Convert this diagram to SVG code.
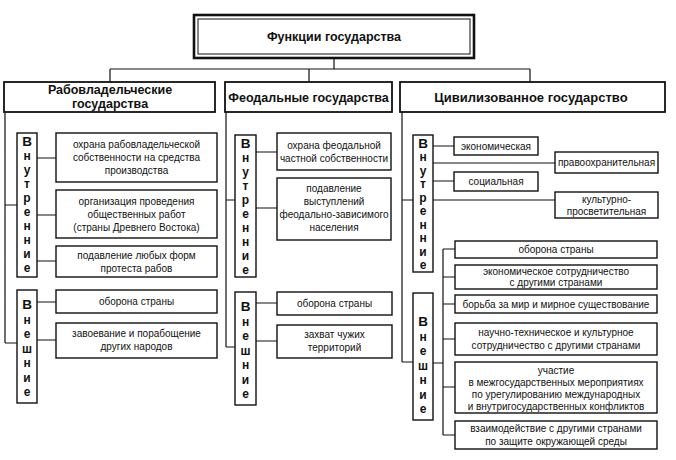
<svg xmlns="http://www.w3.org/2000/svg" width="676" height="460" viewBox="0 0 676 460">
<style>
.bx{fill:#fff;stroke:#111;stroke-width:1.4}
.hb{fill:#fff;stroke:#111;stroke-width:1.8}
.ln{fill:none;stroke:#111;stroke-width:1.2}
.t{font-family:"Liberation Sans",Arial,sans-serif;font-size:10px;fill:#111;text-anchor:middle}
.h{font-family:"Liberation Sans",Arial,sans-serif;font-size:13px;font-weight:bold;fill:#111;text-anchor:middle}
.v{font-family:"Liberation Sans",Arial,sans-serif;font-size:12px;font-weight:bold;fill:#111;text-anchor:middle}
.vc{font-size:13.5px}
</style>
<rect width="676" height="460" fill="#fff"/>
<g id="connectors">
<path class="ln" d="M334 58V69M110 69H530M110 69V82M309 69V82M530 69V82"/>
<path class="ln" d="M5 112V343M5 205H17M5 343H17M37 158H56M37 215H56M37 261H56M37 302H56M37 340H56"/>
<path class="ln" d="M226 112V347M226 200H235M226 347H235M256 152H277M256 208H277M256 303H277M256 341H277"/>
<path class="ln" d="M402 112V362M402 200H413M402 362H413M433 146H454M433 163H555M433 181H454M433 200H555"/>
<path class="ln" d="M433 363H443M443 249V435M443 249H455M443 277H455M443 304H455M443 339H455M443 387H455M443 435H455"/>
</g>
<g id="title">
<rect x="194" y="15" width="280" height="43" fill="#fff" stroke="#111" stroke-width="2.6"/>
<rect x="198" y="19" width="272" height="35" fill="none" stroke="#111" stroke-width="1"/>
<text class="h" x="334" y="41" style="font-size:12.5px">Функции государства</text>
</g>
<g id="h1"><rect class="hb" x="4" y="82" width="211" height="30"/><text class="h" x="110" y="94" style="font-size:12.5px">Рабовладельческие</text><text class="h" x="110" y="108" style="font-size:12.5px">государства</text></g>
<g id="h2"><rect class="hb" x="225" y="82" width="167" height="30"/><text class="h" x="308.5" y="102" style="font-size:12.5px">Феодальные государства</text></g>
<g id="h3"><rect class="hb" x="400" y="82" width="265" height="30"/><text class="h" x="531" y="102">Цивилизованное государство</text></g>

<g id="l1in"><rect class="bx" x="17" y="133" width="20" height="144"/>
<text class="v" x="27"><tspan class="vc" x="27" y="146">В</tspan><tspan x="27" y="160">н</tspan><tspan x="27" y="174">у</tspan><tspan x="27" y="188">т</tspan><tspan x="27" y="202">р</tspan><tspan x="27" y="216">е</tspan><tspan x="27" y="230">н</tspan><tspan x="27" y="244">н</tspan><tspan x="27" y="258">и</tspan><tspan x="27" y="272">е</tspan></text></g>
<g id="l1ex"><rect class="bx" x="17" y="290" width="20" height="113"/>
<text class="v" x="27"><tspan class="vc" x="27" y="309">В</tspan><tspan x="27" y="323.5">н</tspan><tspan x="27" y="338">е</tspan><tspan x="27" y="352.5">ш</tspan><tspan x="27" y="367">н</tspan><tspan x="27" y="381.5">и</tspan><tspan x="27" y="396">е</tspan></text></g>
<g id="a1"><rect class="bx" x="56" y="133" width="161" height="49"/><text class="t" x="136.5" y="148">охрана рабовладельческой</text><text class="t" x="136.5" y="161">собственности на средства</text><text class="t" x="136.5" y="174">производства</text></g>
<g id="a2"><rect class="bx" x="56" y="190" width="161" height="48"/><text class="t" x="136.5" y="205">организация проведения</text><text class="t" x="136.5" y="218">общественных работ</text><text class="t" x="136.5" y="231">(страны Древнего Востока)</text></g>
<g id="a3"><rect class="bx" x="56" y="246" width="161" height="31"/><text class="t" x="136.5" y="259">подавление любых форм</text><text class="t" x="136.5" y="272">протеста рабов</text></g>
<g id="a4"><rect class="bx" x="56" y="290" width="161" height="23"/><text class="t" x="136.5" y="305">оборона страны</text></g>
<g id="a5"><rect class="bx" x="56" y="323" width="161" height="35"/><text class="t" x="136.5" y="337">завоевание и порабощение</text><text class="t" x="136.5" y="350">других народов</text></g>

<g id="l2in"><rect class="bx" x="235" y="135" width="21" height="142"/>
<text class="v" x="245.5"><tspan class="vc" x="245.5" y="148">В</tspan><tspan x="245.5" y="162">н</tspan><tspan x="245.5" y="176">у</tspan><tspan x="245.5" y="190">т</tspan><tspan x="245.5" y="204">р</tspan><tspan x="245.5" y="218">е</tspan><tspan x="245.5" y="232">н</tspan><tspan x="245.5" y="246">н</tspan><tspan x="245.5" y="260">и</tspan><tspan x="245.5" y="274">е</tspan></text></g>
<g id="l2ex"><rect class="bx" x="235" y="292" width="21" height="113"/>
<text class="v" x="245.5"><tspan class="vc" x="245.5" y="311">В</tspan><tspan x="245.5" y="325.5">н</tspan><tspan x="245.5" y="340">е</tspan><tspan x="245.5" y="354.5">ш</tspan><tspan x="245.5" y="369">н</tspan><tspan x="245.5" y="383.5">и</tspan><tspan x="245.5" y="398">е</tspan></text></g>
<g id="b1"><rect class="bx" x="277" y="133" width="114" height="37"/><text class="t" x="334" y="149">охрана феодальной</text><text class="t" x="334" y="162">частной собственности</text></g>
<g id="b2"><rect class="bx" x="277" y="178" width="114" height="62"/><text class="t" x="334" y="192">подавление</text><text class="t" x="334" y="205">выступлений</text><text class="t" x="334" y="218">феодально-зависимого</text><text class="t" x="334" y="231">населения</text></g>
<g id="b3"><rect class="bx" x="277" y="292" width="115" height="23"/><text class="t" x="334.5" y="307">оборона страны</text></g>
<g id="b4"><rect class="bx" x="277" y="325" width="115" height="33"/><text class="t" x="334.5" y="338">захват чужих</text><text class="t" x="334.5" y="351">территорий</text></g>

<g id="l3in"><rect class="bx" x="413" y="135" width="20" height="137"/>
<text class="v" x="423"><tspan class="vc" x="423" y="147.5">В</tspan><tspan x="423" y="161">н</tspan><tspan x="423" y="174.5">у</tspan><tspan x="423" y="188">т</tspan><tspan x="423" y="201.5">р</tspan><tspan x="423" y="215">е</tspan><tspan x="423" y="228.5">н</tspan><tspan x="423" y="242">н</tspan><tspan x="423" y="255.5">и</tspan><tspan x="423" y="269">е</tspan></text></g>
<g id="l3ex"><rect class="bx" x="413" y="293" width="20" height="127"/>
<text class="v" x="423"><tspan class="vc" x="423" y="326">В</tspan><tspan x="423" y="340.5">н</tspan><tspan x="423" y="355">е</tspan><tspan x="423" y="369.5">ш</tspan><tspan x="423" y="384">н</tspan><tspan x="423" y="398.5">и</tspan><tspan x="423" y="413">е</tspan></text></g>
<g id="c1"><rect class="bx" x="454" y="137" width="84" height="18"/><text class="t" x="496" y="150">экономическая</text></g>
<g id="c2"><rect class="bx" x="555" y="152" width="103" height="21"/><text class="t" x="606.5" y="166">правоохранительная</text></g>
<g id="c3"><rect class="bx" x="454" y="172" width="84" height="19"/><text class="t" x="496" y="185">социальная</text></g>
<g id="c4"><rect class="bx" x="555" y="192" width="103" height="26"/><text class="t" x="606.5" y="203">культурно-</text><text class="t" x="606.5" y="215">просветительная</text></g>
<g id="d1"><rect class="bx" x="455" y="241" width="202" height="17"/><text class="t" x="556" y="253">оборона страны</text></g>
<g id="d2"><rect class="bx" x="455" y="265" width="202" height="24"/><text class="t" x="556" y="275">экономическое сотрудничество</text><text class="t" x="556" y="286">с другими странами</text></g>
<g id="d3"><rect class="bx" x="455" y="295" width="202" height="18"/><text class="t" x="556" y="308">борьба за мир и мирное существование</text></g>
<g id="d4"><rect class="bx" x="455" y="323" width="202" height="32"/><text class="t" x="556" y="336">научно-техническое и культурное</text><text class="t" x="556" y="349">сотрудничество с другими странами</text></g>
<g id="d5"><rect class="bx" x="455" y="362" width="202" height="51"/><text class="t" x="556" y="374">участие</text><text class="t" x="556" y="386">в межгосударственных мероприятиях</text><text class="t" x="556" y="398">по урегулированию международных</text><text class="t" x="556" y="410">и внутригосударственных конфликтов</text></g>
<g id="d6"><rect class="bx" x="455" y="421" width="202" height="28"/><text class="t" x="556" y="432">взаимодействие с другими странами</text><text class="t" x="556" y="445">по защите окружающей среды</text></g>
</svg>
